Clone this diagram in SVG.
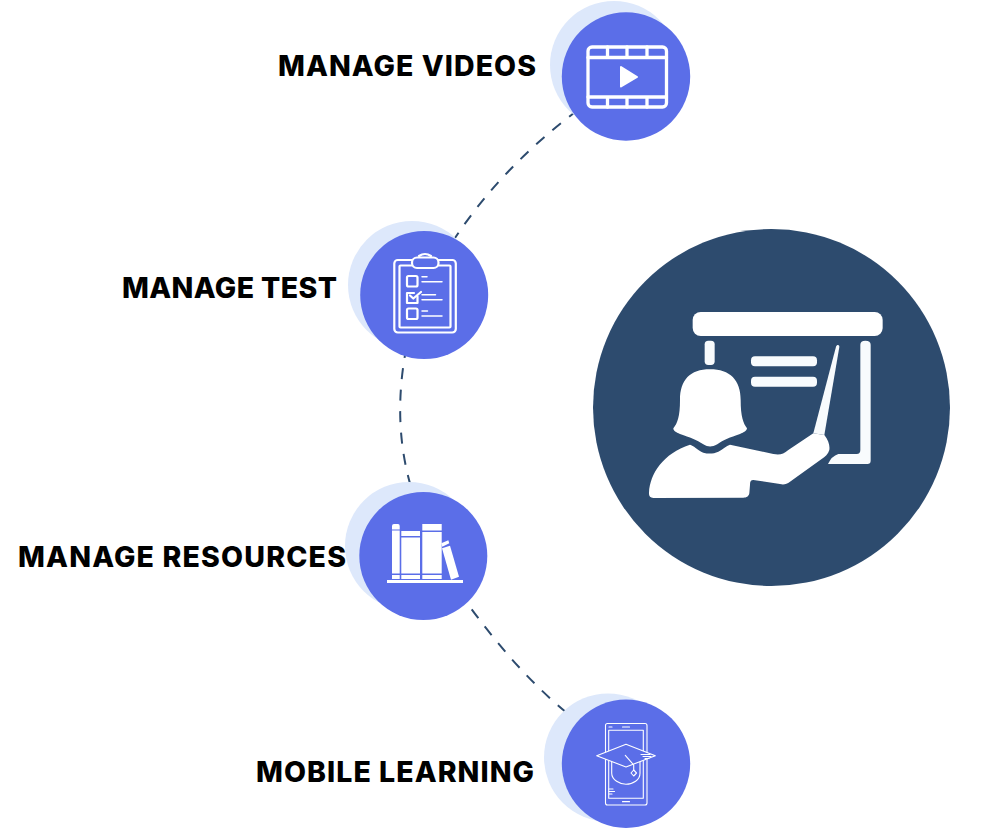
<svg xmlns="http://www.w3.org/2000/svg" width="992" height="830" viewBox="0 0 992 830">
<style>
.back{fill:#dde8fb}
.main{fill:#5b6ee8}
.label{font-family:Inter,"Liberation Sans",sans-serif;font-weight:800;font-size:28.500px;fill:#000}
.conn{fill:none;stroke:#2d4b6e;stroke-width:2;stroke-dasharray:11 10.500}
.ol{fill:none;stroke:#fff;stroke-linecap:round;stroke-linejoin:round}
.w{fill:#fff}
.b{fill:#f8fbfd}
</style>
<rect width="992" height="830" fill="#fff"/>
<g id="connectors">
<path class="conn" d="M578 110Q503 166 455 238"/>
<path class="conn" d="M406.500 347Q392 421 410.700 486"/>
<path class="conn" d="M471.700 609.300Q526 683 580 723"/>
</g>
<g id="node-center">
<circle cx="771.5" cy="407.5" r="178.5" fill="#2d4b6e"/>
<g transform="translate(640 300) scale(.33333)">
<rect class="w" x="158" y="36" width="570" height="72" rx="24"/>
<rect class="b" x="194" y="122" width="30" height="73" rx="11"/>
<rect class="b" x="333" y="169" width="198" height="30" rx="12"/>
<rect class="b" x="333" y="230" width="198" height="30" rx="12"/>
<path class="b" d="M661 134Q661 122 676 122Q692 122 692 134L692 482Q692 492 682 492L564 492Q575 468 595 462L650 462Q661 462 661 450Z"/>
<path class="b" d="M588 140C590 133 599 133 598 141L553 405L520 400Z"/>
<path class="w" d="M100 385C112 370 120 350 120 300C120 240 150 208 210 208C270 208 302 240 302 300C302 350 310 370 321 385C320 393 312 397 300 402C270 412 250 420 232 433C215 442 205 442 190 433C170 420 150 412 120 402C108 397 100 393 100 385Z"/>
<path class="w" d="M150 434C160 436 172 450 190 458C205 462 220 462 235 455C250 447 258 438 270 434L400 462C420 466 430 462 445 450L520 400L553 405C565 420 570 435 568 450C565 462 555 470 545 477L450 545C440 553 430 555 420 552L340 540C332 540 330 545 330 555L328 580C326 590 320 593 310 593L40 594C30 594 26 588 27 578C30 520 70 460 150 434Z"/>
</g>
</g>
<g id="node-videos">
<circle class="back" cx="614" cy="65" r="64"/>
<circle class="main" cx="626" cy="76.500" r="64.200"/>
<g class="ol" stroke-width="3.300">
<rect x="588" y="47" width="78.500" height="60" rx="4"/>
<path d="M588 57.500H666.500M588 97H666.500M607.500 47V57.500M627 47V57.500M647 47V57.500M607.500 97V107M627 97V107M647 97V107"/>
</g>
<path class="w" stroke="#fff" stroke-width="2" stroke-linejoin="round" d="M621 67L637 77L621 86.500Z"/>
<text class="label" x="278" y="75.500" textLength="258">MANAGE VIDEOS</text>
</g>
<g id="node-test">
<circle class="back" cx="412" cy="285" r="64"/>
<circle class="main" cx="424.200" cy="295" r="64"/>
<g class="ol" stroke-width="2.200">
<rect x="394.300" y="260" width="61.500" height="72.500" rx="3.500"/>
<rect x="399.500" y="265.500" width="51" height="62" rx="1"/>
<rect x="412" y="257.500" width="26.500" height="10.500" rx="5" fill="#5b6ee8"/>
<path d="M419 256Q425 252 431 256" fill="#5b6ee8"/>
<rect x="407" y="276" width="10.500" height="10.500" rx="1.500"/>
<path d="M417.500 296.500V303H407V293H414"/>
<path d="M410 295.500L413.300 298.500L421 292"/>
<rect x="407" y="308.500" width="10.500" height="10.500" rx="1.500"/>
<path stroke-width="1.500" d="M422 276.700H427M422 281.700H442M422 294.700H435.500M422 299.700H442M422 311H427.500M422 316H442"/>
</g>
<text class="label" x="122" y="297.500" textLength="215">MANAGE TEST</text>
</g>
<g id="node-resources">
<circle class="back" cx="409" cy="546" r="64"/>
<circle class="main" cx="423.300" cy="556" r="64"/>
<g class="w">
<rect x="387" y="580" width="76" height="3"/>
<path d="M392 526Q392 524 394 524H398Q399.700 524 399.700 526V529.500H392ZM392 530.500H399.700V573.500H392ZM392 575H399.700V579H392Z"/>
<path d="M401.300 531H420V536H401.300ZM401.300 537.500H420V573.500H401.300ZM401.300 575H420V579H401.300Z"/>
<path d="M422.300 524H441.700V530.500H422.300ZM422.300 532H441.700V573.500H422.300ZM422.300 575H441.700V579H422.300Z"/>
<path d="M442 548.300L450 545.700L459 576.700L451 579.700Z"/>
<path d="M441.300 543.300L448.300 540.300L449.300 543.300L442.300 546.700Z"/>
</g>
<text class="label" x="18" y="567" textLength="328">MANAGE RESOURCES</text>
</g>
<g id="node-mobile">
<circle class="back" cx="608" cy="757.500" r="64"/>
<circle class="main" cx="626" cy="763.700" r="64.200"/>
<g class="ol" stroke-width="1.100">
<rect x="605.500" y="723.500" width="41.500" height="81.500" rx="2"/>
<rect x="608.700" y="730.300" width="34.600" height="68"/>
<path stroke-width="1.200" d="M609 727H612M622.500 727H629.500M622.500 801.700H629.500M609 789H613M609 791.500H614.500M609 794H612"/>
<path fill="#5b6ee8" d="M611.700 758V773.300C611.700 780 620 784.300 626 784.300C633 784.300 640 780 640 773.300V758Z"/>
<path fill="#5b6ee8" d="M596.700 755.700L626 744.300L655.300 755.700L626 767Z"/>
<path d="M625.300 755.300L633.700 765V770M641 754.500H650M643 756.500H651M645 758.500H649"/>
<path d="M633.700 770L636.500 773L633.700 776L631 773Z"/>
</g>
<text class="label" x="256" y="781.700" textLength="278">MOBILE LEARNING</text>
</g>
</svg>
